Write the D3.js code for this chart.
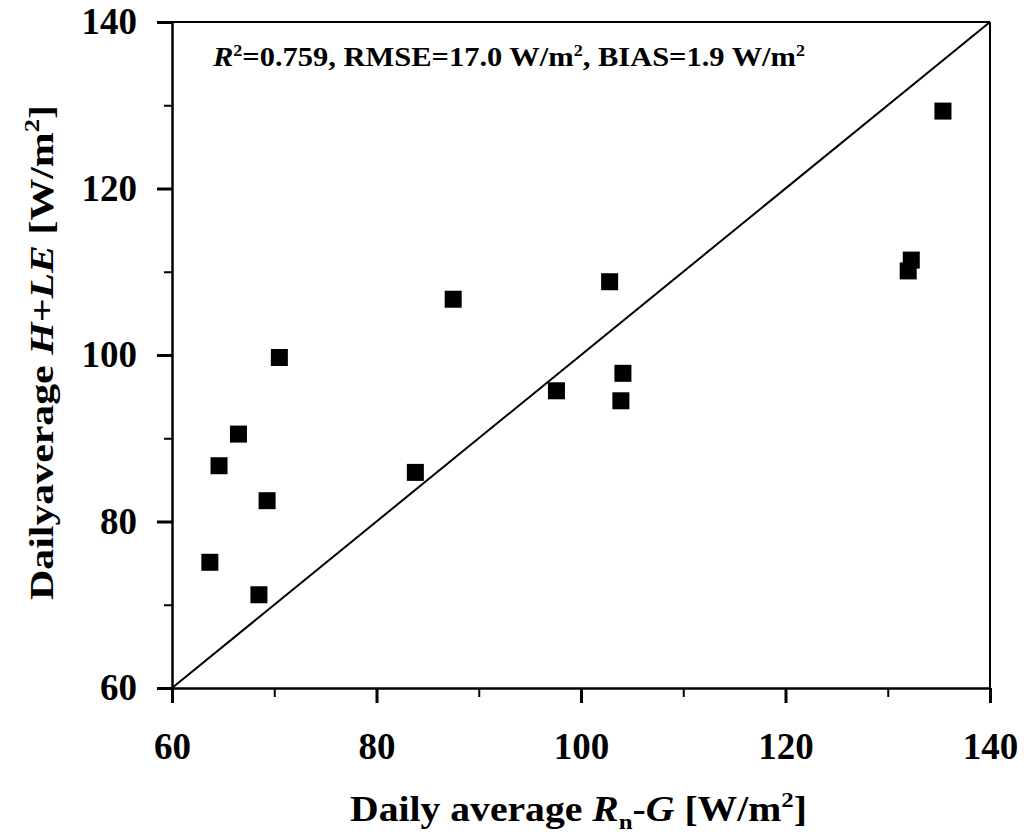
<!DOCTYPE html>
<html>
<head>
<meta charset="utf-8">
<script src="https://cdn.jsdelivr.net/npm/d3@7"></script>
<style>
	body { margin: 0; background: #fff; }
	svg { display: block; }
	text { font-family: 'Liberation Serif', 'Times New Roman', serif; font-weight: bold; fill: #000; }
</style>
</head>
<body>
<div id="chart"></div>
<script>
// Daily average Rn-G (x) against daily average H+LE (y), W/m2
var rnMinusG = [70.5, 87.5, 66.5, 64.6, 69.3, 63.7, 68.5, 83.8, 135.4, 132.3, 132.0, 102.8, 97.6, 104.1, 103.9];
var hPlusLE = [99.7, 106.7, 90.5, 86.7, 82.5, 75.1, 71.2, 85.9, 129.3, 111.4, 110.1, 108.8, 95.7, 97.8, 94.5];

var majorTicks = [60, 80, 100, 120, 140];
var minorTicks = [70, 90, 110, 130];
var axisDomain = [60, 140];

var margin = { top: 22, right: 34, bottom: 149, left: 172 };
var width = 1024 - margin.left - margin.right;
var height = 837 - margin.top - margin.bottom;

function drawChart() {
	var svg = d3
		.select('#chart')
		.append('svg')
		.attr('width', 1024)
		.attr('height', 837);

	var g = svg
		.append('g')
		.attr('transform', 'translate(' + margin.left + ',' + margin.top + ')');

	var x = d3.scaleLinear().domain(axisDomain).range([0, width]);
	var y = d3.scaleLinear().domain(axisDomain).range([height, 0]);

	// frame on top and right, no ticks
	g.append('line')
		.attr('x1', 0).attr('x2', width)
		.attr('y1', 0).attr('y2', 0)
		.attr('stroke', '#000').attr('stroke-width', 2);
	g.append('line')
		.attr('x1', width).attr('x2', width)
		.attr('y1', 0).attr('y2', height)
		.attr('stroke', '#000').attr('stroke-width', 2);

	// minor ticks first so the major axis sits over them
	g.append('g')
		.attr('transform', 'translate(0,' + height + ')')
		.call(d3.axisBottom(x).tickValues(minorTicks).tickSize(9).tickFormat(''))
		.call(a => a.select('.domain').remove())
		.selectAll('line').attr('stroke-width', 2);
	g.append('g')
		.call(d3.axisLeft(y).tickValues(minorTicks).tickSize(8).tickFormat(''))
		.call(a => a.select('.domain').remove())
		.selectAll('line').attr('stroke-width', 2);

	var xAxis = g
		.append('g')
		.attr('transform', 'translate(0,' + height + ')')
		.call(d3.axisBottom(x).tickValues(majorTicks).tickSize(15).tickSizeOuter(0).tickPadding(30));
	var yAxis = g
		.append('g')
		.call(d3.axisLeft(y).tickValues(majorTicks).tickSize(15).tickSizeOuter(0).tickPadding(20));

	[xAxis, yAxis].forEach(a => {
		a.select('.domain').attr('stroke-width', 2.5);
		a.selectAll('.tick line').attr('stroke-width', 3);
		a.selectAll('.tick text')
			.style('font-family', "'Liberation Serif', serif")
			.style('font-weight', 'bold')
			.style('font-size', '37px')
			.attr('fill', '#000');
	});

	// 1:1 line
	g.append('line')
		.attr('x1', x(axisDomain[0])).attr('y1', y(axisDomain[0]))
		.attr('x2', x(axisDomain[1])).attr('y2', y(axisDomain[1]))
		.attr('stroke', '#000')
		.attr('stroke-width', 2);

	var size = 17;
	g.selectAll('rect.pt')
		.data(rnMinusG)
		.enter()
		.append('rect')
		.attr('class', 'pt')
		.attr('x', d => x(d) - size / 2)
		.attr('y', (d, i) => y(hPlusLE[i]) - size / 2)
		.attr('width', size)
		.attr('height', size)
		.attr('fill', '#000');

	// statistics note
	var note = svg
		.append('text')
		.attr('x', 213)
		.attr('y', 66)
		.attr('textLength', 592)
		.attr('lengthAdjust', 'spacingAndGlyphs')
		.style('font-size', '27px');
	note.append('tspan').style('font-style', 'italic').text('R');
	note.append('tspan').attr('dy', -10).style('font-size', '16px').text('2');
	note.append('tspan').attr('dy', 10).text('=0.759, RMSE=17.0 W/m');
	note.append('tspan').attr('dy', -10).style('font-size', '16px').text('2');
	note.append('tspan').attr('dy', 10).text(', BIAS=1.9 W/m');
	note.append('tspan').attr('dy', -10).style('font-size', '16px').text('2');

	// x title
	var xt = svg
		.append('text')
		.attr('x', 350)
		.attr('y', 821)
		.attr('textLength', 457)
		.attr('lengthAdjust', 'spacingAndGlyphs')
		.style('font-size', '35px');
	xt.append('tspan').text('Daily average ');
	xt.append('tspan').style('font-style', 'italic').text('R');
	xt.append('tspan').attr('dy', 8).style('font-size', '22px').text('n');
	xt.append('tspan').attr('dy', -8).text('-');
	xt.append('tspan').style('font-style', 'italic').text('G');
	xt.append('tspan').text(' [W/m');
	xt.append('tspan').attr('dy', -14).style('font-size', '22px').text('2');
	xt.append('tspan').attr('dy', 14).text(']');

	// y title
	var yt = svg
		.append('text')
		.attr('transform', 'translate(53,600) rotate(-90)')
		.attr('x', 0)
		.attr('y', 0)
		.attr('textLength', 495)
		.attr('lengthAdjust', 'spacingAndGlyphs')
		.style('font-size', '33px');
	yt.append('tspan').text('Dailyaverage ');
	yt.append('tspan').style('font-style', 'italic').text('H');
	yt.append('tspan').text('+');
	yt.append('tspan').style('font-style', 'italic').text('LE');
	yt.append('tspan').text(' [W/m');
	yt.append('tspan').attr('dy', -14).style('font-size', '21px').text('2');
	yt.append('tspan').attr('dy', 14).text(']');
}

drawChart();
</script>
</body>
</html>
